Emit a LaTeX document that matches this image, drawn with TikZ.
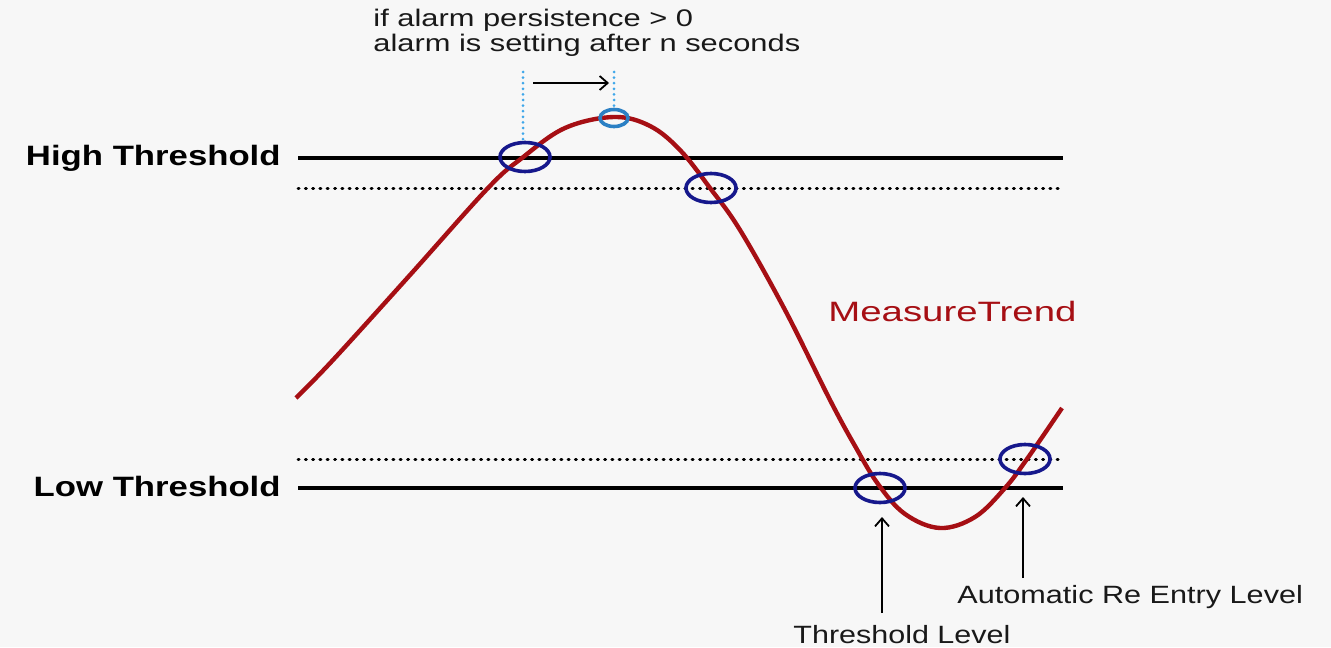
\documentclass[tikz,border=0pt]{standalone}
\usepackage{fontspec}
\setmainfont{Liberation Sans}
\usepackage{graphicx}
\usetikzlibrary{positioning,shapes.geometric,arrows.meta}

\definecolor{bgcol}{HTML}{F7F7F7}
\definecolor{trendred}{HTML}{A60F14}
\definecolor{ringblue}{HTML}{16188C}
\definecolor{lightring}{HTML}{2B80C4}
\definecolor{dotblue}{HTML}{3FA7EA}
\newcommand{\hstr}[2]{\scalebox{#1}[1]{#2}}

\begin{document}
\begin{tikzpicture}[
		x=0.5pt,
		y=-0.5pt,
		level line/.style={line width=1.9pt, black},
		level dots/.style={line width=1.5pt, line cap=round, dash pattern=on 0.5pt off 3.15pt},
		ring/.style={ellipse, draw=ringblue, line width=1.8pt, minimum width=25pt, minimum height=14.5pt, inner sep=0pt},
		side label/.style={font=\fontsize{14}{16}\selectfont\bfseries, inner sep=0pt},
		note label/.style={font=\fontsize{12.5}{15}\selectfont, inner sep=0pt, text=black!90},
		pointer/.style={-{Straight Barb[length=4pt, width=7pt]}, line width=0.9pt}
	]
	\fill[bgcol] (0,0) rectangle (1331,647);
	\useasboundingbox (0,0) rectangle (1331,647);

	% threshold levels
	\draw[level line] (298,158) -- (1063,158);
	\draw[level dots] (298,188) -- (1063,188);
	\draw[level dots] (298,459) -- (1060,459);
	\draw[level line] (298,488) -- (1063,488);

	\node[side label, anchor=base east] (hilbl) at (281,165) {\hstr{1.24}{High Threshold}};
	\node[side label, anchor=base east] (lolbl) at (281,496) {\hstr{1.24}{Low Threshold}};

	% persistence note
	\node[note label, font=\fontsize{12}{12.5}\selectfont, align=left, anchor=base west] (persist) at (373,52)
		{\hstr{1.285}{if alarm persistence > 0}\\\hstr{1.285}{alarm is setting after n seconds}};
	\coordinate (vtopa) at (523,72);
	\coordinate (vtopb) at (614,72);
	\coordinate (pstart) at (533,83);
	\coordinate (pend) at (609,83);

	% measure trend
	\draw[trendred, line width=2.2pt] plot[smooth, tension=0.6] coordinates {
		(296,398) (333,360) (410,275) (488,188) (522,158) (565,128) (614,117)
		(650,126) (680,150) (710,188) (740,230) (785,310) (830,400) (855,446)
		(878,484) (905,514) (940,528) (975,517) (1005,488) (1027,459) (1062,408)};
	\node[note label, font=\fontsize{14}{16}\selectfont, text=trendred, anchor=west] (trend) at (828,311) {\hstr{1.37}{MeasureTrend}};

	\node[ring] (hicross) at (525,157) {};
	\node[ring, draw=lightring, minimum width=14pt, minimum height=8.5pt] (peak) at (614,118) {};
	\node[ring] (hireset) at (711,188) {};
	\node[ring] (locross) at (880,488) {};
	\node[ring] (loreset) at (1025,459) {};

	\draw[dotblue, level dots, dash pattern=on 0pt off 2.8pt] (vtopa) -- (vtopa |- hicross.north);
	\draw[dotblue, level dots, dash pattern=on 0pt off 2.8pt] (vtopb) -- (peak.north);
	\draw[pointer] (pstart) -- (pend);

	% bottom labels
	\node[note label, anchor=base west] (thrlbl) at (793,643) {\hstr{1.22}{Threshold Level}};
	\node[note label, anchor=base west] (autolbl) at (957,603) {\hstr{1.225}{Automatic Re Entry Level}};
	\coordinate (thrfoot) at (882,613);
	\coordinate (thrtip) at (882,517);
	\coordinate (autofoot) at (1023,578);
	\coordinate (autotip) at (1023,497);
	\draw[pointer] (thrfoot) -- (thrtip);
	\draw[pointer] (autofoot) -- (autotip);
\end{tikzpicture}
\end{document}
